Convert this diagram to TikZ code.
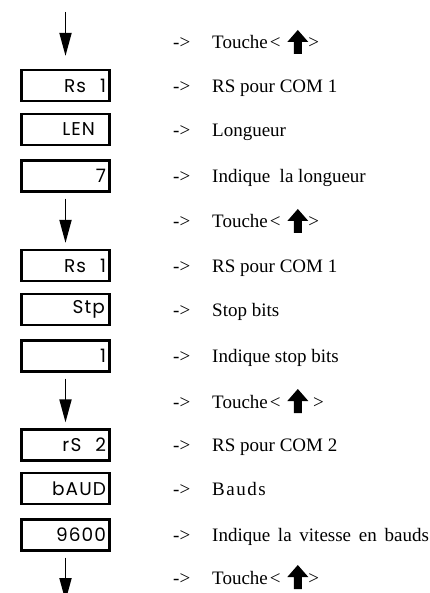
\documentclass[tikz,border=0pt]{standalone}
\usepackage{fontspec}
\setmainfont{Liberation Serif}
\newfontfamily\dispfont[LetterSpace=6]{Poppins}
\usetikzlibrary{positioning, calc, arrows.meta}

% bold up-arrow of the key
\newcommand{\upkey}{\tikz[x=1pt,y=1pt,baseline=5pt]\fill (-4,0) -- (4,0) -- (4,12) -- (10.5,12) -- (0,24) -- (-10.5,12) -- (-4,12) -- cycle;}

\begin{document}
\begin{tikzpicture}[x=1pt,y=-1pt,
    dispbox/.style={draw, line width=2.2pt, minimum width=88pt, minimum height=31pt,
        text width=81pt, align=right, inner sep=0pt,
        font=\dispfont\fontsize{18.5}{18.5}\selectfont},
    flow/.style={line width=1.8pt, -{Triangle[width=12pt,length=23pt]}},
    lbl/.style={anchor=base west, inner sep=0pt, font=\fontsize{19}{20}\selectfont}]
    \useasboundingbox (0,0) rectangle (430,593);

    % Display boxes
    \foreach \n/\y/\txt in {b1/85.5/{Rs\kern14pt1}, b2/129.5/{LEN\kern11pt},
        b3/176/7, b4/265.5/{Rs\kern14pt1}, b5/309.5/{Stp\kern1pt}, b6/356/1,
        b7/445/{rS\kern14pt2}, b8/488.5/bAUD, b9/535/9600} {
        \node[dispbox] (\n) at (65.5,\y) {\txt};
    }

    % Flow arrows
    \coordinate (start) at (65.5,12);
    \coordinate (stop) at (65.5,601);
    \draw[flow, shorten >=13pt] (start) -- (b1.north);
    \draw[flow, shorten <=6pt, shorten >=6pt] (b3) -- (b4);
    \draw[flow, shorten <=6pt, shorten >=6pt] (b6) -- (b7);
    \draw[flow, shorten <=6pt] (b9) -- (stop);

    % Comments on the right
    \foreach \i/\y/\txt in {1/49/{Touche\kern2pt< \kern2pt\upkey>}, 2/92.5/{RS pour COM 1},
        3/136.5/Longueur, 4/182.5/{Indique\ \ la longueur},
        5/228/{Touche\kern2pt< \kern2pt\upkey>}, 6/272/{RS pour COM 1}, 7/316/{Stop bits},
        8/362/{Indique stop bits}, 9/408/{Touche\kern2pt< \kern2pt\upkey\ >},
        10/451.5/{RS pour COM 2}, 11/495.5/{\addfontfeatures{LetterSpace=8}Bauds},
        12/541.5/{Indique\kern3pt\ la\kern3pt\ vitesse\kern3pt\ en\kern3pt\ bauds},
        13/584/{Touche\kern2pt< \kern2pt\upkey>}} {
        \node[lbl] (sep\i) at (173,\y) {->};
        \node[lbl] (txt\i) at (212,\y) {\txt};
    }
\end{tikzpicture}
\end{document}
